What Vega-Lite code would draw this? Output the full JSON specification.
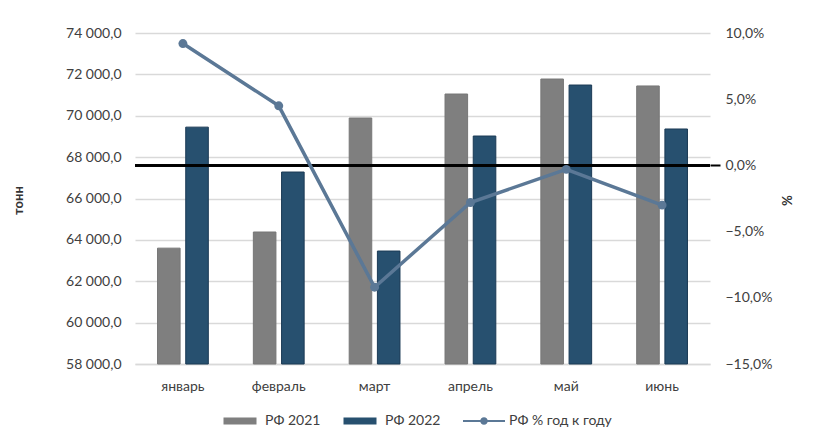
{
  "$schema": "https://vega.github.io/schema/vega-lite/v6.json",
  "width": 575,
  "height": 331,
  "autosize": {"type": "none"},
  "padding": {"left": 135, "top": 33, "right": 103, "bottom": 81},
  "background": "white",
  "datasets": {
    "bars": [
      {"month": "январь", "series": "РФ 2021", "value": 63600},
      {"month": "январь", "series": "РФ 2022", "value": 69450},
      {"month": "февраль", "series": "РФ 2021", "value": 64380},
      {"month": "февраль", "series": "РФ 2022", "value": 67280},
      {"month": "март", "series": "РФ 2021", "value": 69890},
      {"month": "март", "series": "РФ 2022", "value": 63460},
      {"month": "апрель", "series": "РФ 2021", "value": 71050},
      {"month": "апрель", "series": "РФ 2022", "value": 69020},
      {"month": "май", "series": "РФ 2021", "value": 71775},
      {"month": "май", "series": "РФ 2022", "value": 71485},
      {"month": "июнь", "series": "РФ 2021", "value": 71440},
      {"month": "июнь", "series": "РФ 2022", "value": 69360}
    ],
    "yoy": [
      {"month": "январь", "pct": 0.092},
      {"month": "февраль", "pct": 0.045},
      {"month": "март", "pct": -0.092},
      {"month": "апрель", "pct": -0.028},
      {"month": "май", "pct": -0.003},
      {"month": "июнь", "pct": -0.03}
    ]
  },
  "layer": [
    {
      "data": {"name": "bars"},
      "mark": {"type": "bar", "strokeWidth": 1},
      "encoding": {
        "x": {
          "field": "month", "type": "nominal",
          "sort": ["январь", "февраль", "март", "апрель", "май", "июнь"],
          "scale": {"paddingInner": 0.47, "paddingOuter": 0.235},
          "axis": {
            "title": null, "labelAngle": 0, "ticks": false,
            "domainColor": "#d9d9d9", "domainWidth": 1.5,
            "labelPadding": 15, "labelFontSize": 14, "labelColor": "#404040"
          }
        },
        "xOffset": {
          "field": "series", "type": "nominal",
          "scale": {"paddingInner": 0.2, "paddingOuter": 0}
        },
        "y": {
          "field": "value", "type": "quantitative",
          "scale": {"domain": [58000, 74000], "zero": false, "nice": false},
          "axis": {
            "title": "тонн", "orient": "left",
            "values": [58000, 60000, 62000, 64000, 66000, 68000, 70000, 72000, 74000],
            "format": ",.1f", "grid": true, "gridColor": "#d9d9d9", "gridWidth": 1.5,
            "domain": false, "ticks": false, "labelPadding": 14,
            "labelFontSize": 14, "labelColor": "#404040",
            "titleFontSize": 13, "titleFontWeight": "bold", "titleColor": "#333333",
            "titleAngle": -90, "titleX": -117, "titleY": 167, "titleAlign": "center", "titleBaseline": "middle"
          }
        },
        "y2": {"datum": 58000},
        "color": {
          "field": "series", "type": "nominal",
          "scale": {
            "domain": ["РФ 2021", "РФ 2022", "РФ % год к году"],
            "range": ["#7f7f7f", "#27506f", "#5b7896"]
          },
          "legend": {
            "title": null, "orient": "none", "direction": "horizontal",
            "legendX": 98, "legendY": 381,
            "symbolSize": 100, "labelOffset": 18, "columnPadding": 22,
            "labelFontSize": 14, "labelColor": "#404040",
            "encode": {
              "symbols": {
                "update": {
                  "shape": {"signal": "datum.value === 'РФ % год к году' ? 'M-4.2,-0.22H4.2V0.22H-4.2Z M-0.75,0A0.75,0.75 0 1,1 0.75,0A0.75,0.75 0 1,1 -0.75,0Z' : 'M-3.3,-0.7H3.3V0.7H-3.3Z'"},
                  "fill": {"scale": "color", "field": "value"},
                  "fillOpacity": {"value": 1},
                  "opacity": {"value": 1},
                  "strokeWidth": {"value": 0}
                }
              }
            }
          }
        },
        "stroke": {
          "field": "series", "type": "nominal",
          "scale": {"domain": ["РФ 2021", "РФ 2022"], "range": ["#777777", "#1b3a55"]},
          "legend": null
        }
      }
    },
    {
      "data": {"name": "yoy"},
      "encoding": {
        "x": {"field": "month", "type": "nominal", "sort": ["январь", "февраль", "март", "апрель", "май", "июнь"]},
        "y": {
          "field": "pct", "type": "quantitative",
          "scale": {"domain": [-0.15, 0.1], "zero": false, "nice": false},
          "axis": {
            "title": "%", "orient": "right",
            "values": [-0.15, -0.1, -0.05, 0, 0.05, 0.1],
            "format": ".1%", "grid": false, "domain": false,
            "ticks": true, "tickSize": 10, "tickWidth": 2,
            "tickColor": {"condition": {"test": "datum.value === 0", "value": "black"}, "value": "transparent"},
            "labelPadding": 5, "labelFontSize": 14, "labelColor": "#404040",
            "titleFontSize": 13, "titleFontWeight": "bold", "titleColor": "#333333",
            "titleAngle": 90, "titleX": 75, "titleY": 167, "titleAlign": "center", "titleBaseline": "middle"
          }
        }
      },
      "layer": [
        {
          "mark": {"type": "rule", "color": "black", "strokeWidth": 2},
          "encoding": {"x": null, "y": {"datum": 0, "type": "quantitative"}}
        },
        {
          "mark": {"type": "line", "color": "#5b7896", "strokeWidth": 3.5}
        },
        {
          "mark": {"type": "point", "filled": true, "color": "#5b7896", "size": 80, "opacity": 1}
        }
      ]
    }
  ],
  "resolve": {"scale": {"y": "independent"}},
  "config": {
    "font": "Lato",
    "view": {"stroke": null},
    "locale": {
      "number": {"decimal": ",", "thousands": " ", "grouping": [3], "currency": ["", " ₽"]}
    }
  }
}
